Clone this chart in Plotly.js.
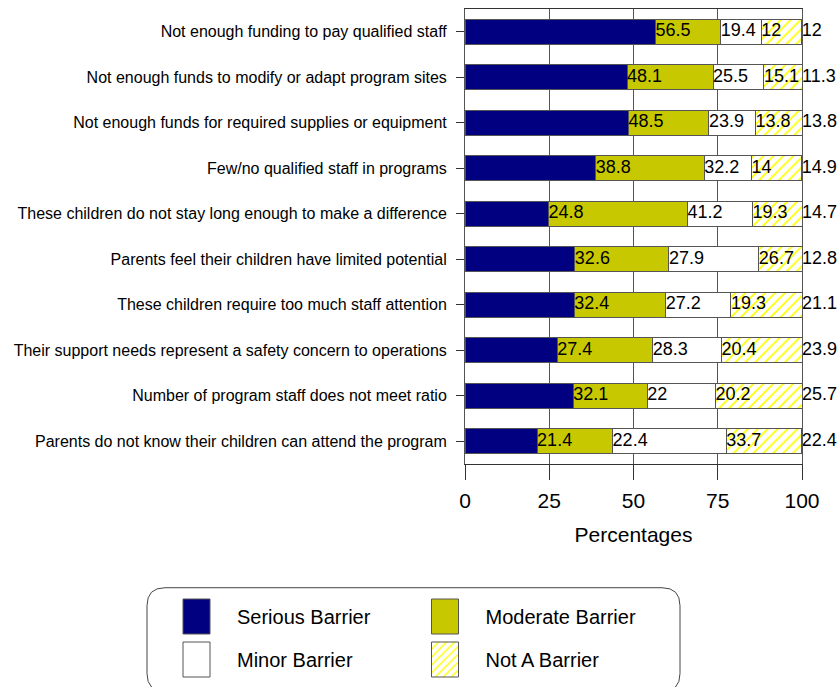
<!DOCTYPE html>
<html><head><meta charset="utf-8">
<script src="https://cdn.plot.ly/plotly-3.0.1.min.js"></script>
<style>body{margin:0;background:#fff}</style>
</head><body>
<div id="chart" style="width:840px;height:687px"></div>
<script>
const categories = [
  'Not enough funding to pay qualified staff',
  'Not enough funds to modify or adapt program sites',
  'Not enough funds for required supplies or equipment',
  'Few/no qualified staff in programs',
  'These children do not stay long enough to make a difference',
  'Parents feel their children have limited potential',
  'These children require too much staff attention',
  'Their support needs represent a safety concern to operations',
  'Number of program staff does not meet ratio',
  'Parents do not know their children can attend the program'
];
const serious    = [56.5, 48.1, 48.5, 38.8, 24.8, 32.6, 32.4, 27.4, 32.1, 21.4];
const moderate   = [19.4, 25.5, 23.9, 32.2, 41.2, 27.9, 27.2, 28.3, 22.0, 22.4];
const minor      = [12.0, 15.1, 13.8, 14.0, 19.3, 26.7, 19.3, 20.4, 20.2, 33.7];
const notBarrier = [12.0, 11.3, 13.8, 14.9, 14.7, 12.8, 21.1, 23.9, 25.7, 22.4];
const seriesNames = ['Serious Barrier', 'Moderate Barrier', 'Minor Barrier', 'Not A Barrier'];
const xTickVals = [0, 25, 50, 75, 100];
const xTitle = 'Percentages';

const FONT = "'Liberation Sans', Arial, sans-serif";
const W = 840, H = 687, ML = 465, MR = 38, MT = 9, MB = 222;
const PW = W - ML - MR, PH = H - MT - MB;
const px2x = p => (p - ML) / PW;
const py2y = p => (H - MB - p) / PH;

const seriesVals = [serious, moderate, minor, notBarrier];
const styles = [
  {color: '#000080'},
  {color: '#C8C800'},
  {color: '#FFFFFF'},
  {color: '#FFFFFF', pattern: {shape: '/', fgcolor: '#FFFF00', bgcolor: '#FFFFFF', size: 7, solidity: 0.25}}
];
const legendIds = ['legend', 'legend2', 'legend', 'legend2'];

const traces = [];
seriesVals.forEach((vals, i) => {
  const m = Object.assign({line: {color: '#555555', width: 1}}, styles[i]);
  traces.push({
    type: 'bar', orientation: 'h', name: seriesNames[i],
    x: vals, y: categories, marker: m,
    legend: legendIds[i], legendgroup: 'g' + i,
    hoverinfo: 'x+name'
  });
});
// value labels at the right end of each segment
let cum = categories.map(() => 0);
seriesVals.forEach((vals, i) => {
  cum = cum.map((c, k) => c + vals[k]);
  traces.push({
    type: 'scatter', mode: 'text', x: cum.slice(), y: categories,
    text: vals.map(v => String(v)), textposition: 'middle right',
    textfont: {family: FONT, size: 18, color: '#000'},
    showlegend: false, hoverinfo: 'skip', cliponaxis: false
  });
});

const r = 18, bl = 147, br = 680, bt = 589, bb = 693;
const boxPath = [
  `M${px2x(bl)},${py2y(bt + r)}`,
  `Q${px2x(bl)},${py2y(bt)} ${px2x(bl + r)},${py2y(bt)}`,
  `L${px2x(br - r)},${py2y(bt)}`,
  `Q${px2x(br)},${py2y(bt)} ${px2x(br)},${py2y(bt + r)}`,
  `L${px2x(br)},${py2y(bb - r)}`,
  `Q${px2x(br)},${py2y(bb)} ${px2x(br - r)},${py2y(bb)}`,
  `L${px2x(bl + r)},${py2y(bb)}`,
  `Q${px2x(bl)},${py2y(bb)} ${px2x(bl)},${py2y(bb - r)}`,
  'Z'
].join(' ');

const legendBase = {
  xanchor: 'left', yanchor: 'top', orientation: 'v',
  font: {family: FONT, size: 20, color: '#000'},
  bgcolor: 'rgba(0,0,0,0)', borderwidth: 0,
  itemwidth: 71, tracegroupgap: 14, traceorder: 'grouped'
};

const layout = {
  width: W, height: H,
  margin: {l: ML, r: MR, t: MT, b: MB, pad: 0},
  paper_bgcolor: '#fff', plot_bgcolor: '#fff',
  barmode: 'stack', bargap: 0.45,
  font: {family: FONT, color: '#000'},
  xaxis: {
    range: [0, 100], tickvals: xTickVals, ticktext: xTickVals.map(String),
    ticks: 'outside', ticklen: 15, tickcolor: '#333', tickwidth: 1,
    ticklabelstandoff: 3,
    showline: true, linecolor: '#333', linewidth: 1, mirror: true,
    showgrid: true, gridcolor: '#555', gridwidth: 1, zeroline: false,
    tickfont: {family: FONT, size: 21, color: '#000'},
    title: {text: xTitle, font: {family: FONT, size: 21, color: '#000'}, standoff: 16},
    fixedrange: true
  },
  yaxis: {
    autorange: 'reversed', type: 'category',
    ticks: 'outside', ticklen: 8, tickcolor: '#333', tickwidth: 1,
    ticklabelstandoff: 6,
    showline: true, linecolor: '#555', linewidth: 1, mirror: true,
    showgrid: false, zeroline: false,
    tickfont: {family: FONT, size: 16, color: '#000'},
    fixedrange: true
  },
  legend: Object.assign({}, legendBase, {x: px2x(156), y: py2y(597)}),
  legend2: Object.assign({}, legendBase, {x: px2x(404.5), y: py2y(597)}),
  shapes: [{type: 'path', xref: 'paper', yref: 'paper', path: boxPath,
            line: {color: '#444', width: 1}, fillcolor: 'rgba(0,0,0,0)', layer: 'below'}]
};

Plotly.newPlot('chart', traces, layout, {displayModeBar: false}).then(gd => {
  gd.querySelectorAll('.infolayer .legendpoints path').forEach(p => {
    p.setAttribute('d', 'M13.5,17.5H-13.5V-17.5H13.5Z');
  });
});
</script>
</body></html>
